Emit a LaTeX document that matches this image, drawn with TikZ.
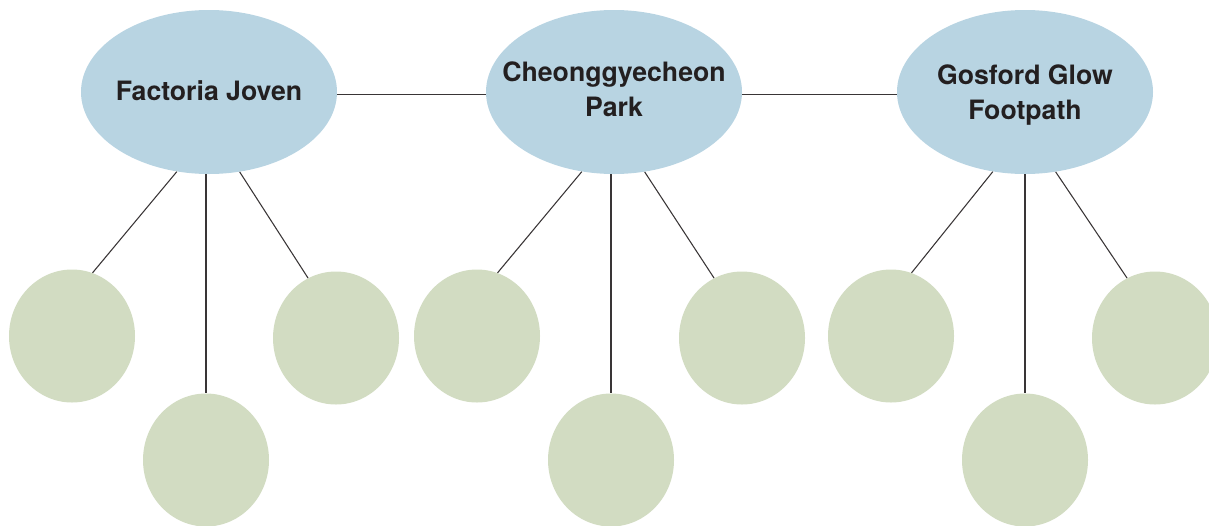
\documentclass[tikz,border=0pt]{standalone}
\usepackage{fontspec}
\setmainfont{TeX Gyre Heros}
\usetikzlibrary{shapes.geometric}
\definecolor{hubblue}{RGB}{184,212,226}
\definecolor{leafgreen}{RGB}{210,220,194}
\definecolor{inkdark}{RGB}{35,31,32}
\begin{document}
\begin{tikzpicture}[x=0.75pt,y=-0.75pt,
  hub/.style={ellipse, fill=hubblue, minimum width=192pt, minimum height=123pt, inner sep=0pt},
  hubtext/.style={align=center, inner sep=0pt, text=inkdark,
    font=\bfseries\fontsize{20}{26}\selectfont},
  leaf/.style={ellipse, fill=leafgreen, minimum width=94.5pt, minimum height=99.75pt, inner sep=0pt},
  link/.style={draw=inkdark!90, line width=0.8pt}]
\useasboundingbox (0,0) rectangle (1209,525);

% hubs
\node[hub] (e1) at (209,92) {};
\node[hub] (e2) at (614,92) {};
\node[hub] (e3) at (1025,92) {};
\node[hubtext] (t1) at ([yshift=-1.5pt]e1.center) {\strut Factoria Joven};
\node[hubtext] (t2) at (e2) {\strut Cheonggyecheon\\Park\strut};
\node[hubtext] (t3) at ([yshift=-2.5pt]e3.center) {\strut Gosford Glow\\Footpath\strut};

% leaves
\node[leaf] (a1) at (72,336) {};
\node[leaf] (a2) at (206,460) {};
\node[leaf] (a3) at (336,338) {};
\node[leaf] (b1) at (477,336) {};
\node[leaf] (b2) at (611,460) {};
\node[leaf] (b3) at (742,338) {};
\node[leaf] (c1) at (891,336) {};
\node[leaf] (c2) at (1025,460) {};
\node[leaf] (c3) at (1155,338) {};

% hub chain
\draw[link] (e1.-1.5) -- (e2.181.5);
\draw[link] (e2.-1.5) -- (e3.181.5);

% spokes
\foreach \h/\l in {e1/a, e2/b, e3/c}{
  \draw[link] (\h.-112.8) -- (\l1.72);
  \draw[link] (\l2.north |- \h.south) -- (\l2.north);
  \draw[link] (\h.-69.4) -- (\l3.115);
}
\end{tikzpicture}
\end{document}
